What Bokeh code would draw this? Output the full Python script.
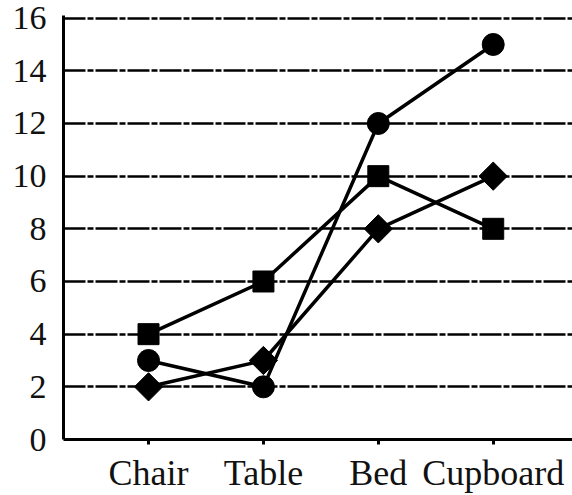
import math
from bokeh.plotting import figure
from bokeh.models import Range1d, FixedTicker
from bokeh.embed import file_html
from bokeh.resources import INLINE

items = ["Chair", "Table", "Bed", "Cupboard"]
series_circle = [3, 2, 12, 15]
series_square = [4, 6, 10, 8]
series_diamond = [2, 3, 8, 10]
y_ticks = [0, 2, 4, 6, 8, 10, 12, 14, 16]

x = list(range(len(items)))

p = figure(width=572, height=495, output_backend="svg", toolbar_location=None,
           x_range=Range1d(-0.74, 3.69), y_range=Range1d(0, 16.1),
           min_border_left=63, min_border_right=0, min_border_top=15,
           min_border_bottom=55)
p.outline_line_color = None
p.background_fill_color = "white"
p.border_fill_color = "white"

font = "Liberation Serif"

p.xaxis.ticker = FixedTicker(ticks=x)
p.xaxis.major_label_overrides = {i: n for i, n in enumerate(items)}
p.xaxis.axis_line_width = 3
p.xaxis.axis_line_color = "black"
p.xaxis.major_tick_in = 0
p.xaxis.major_tick_out = 5
p.xaxis.major_tick_line_width = 3
p.xaxis.minor_tick_line_color = None
p.xaxis.major_label_standoff = 8
p.xaxis.major_label_text_font_size = "36px"

p.yaxis.ticker = FixedTicker(ticks=y_ticks)
p.yaxis.axis_line_width = 3
p.yaxis.axis_line_color = "black"
p.yaxis.major_tick_in = 0
p.yaxis.major_tick_out = 0
p.yaxis.minor_tick_line_color = None
p.yaxis.major_label_standoff = 17
p.yaxis.major_label_text_font_size = "34px"

for ax in (p.xaxis, p.yaxis):
    ax.major_label_text_font = font
    ax.major_label_text_font_style = "normal"
    ax.major_label_text_color = "#111111"

p.xgrid.grid_line_color = None
p.ygrid.grid_line_color = "black"
p.ygrid.grid_line_width = 2.5
p.ygrid.grid_line_dash = "22 2 6 2"

for vals in (series_circle, series_square, series_diamond):
    p.line(x, vals, line_color="black", line_width=3.5)

p.scatter(x, series_circle, marker="circle", size=22, color="black")
p.scatter(x, series_square, marker="square", size=21, color="black")
p.scatter(x, series_diamond, marker="square", size=20, angle=math.pi / 4,
          color="black")

open("out.html", "w").write(file_html(p, INLINE))
